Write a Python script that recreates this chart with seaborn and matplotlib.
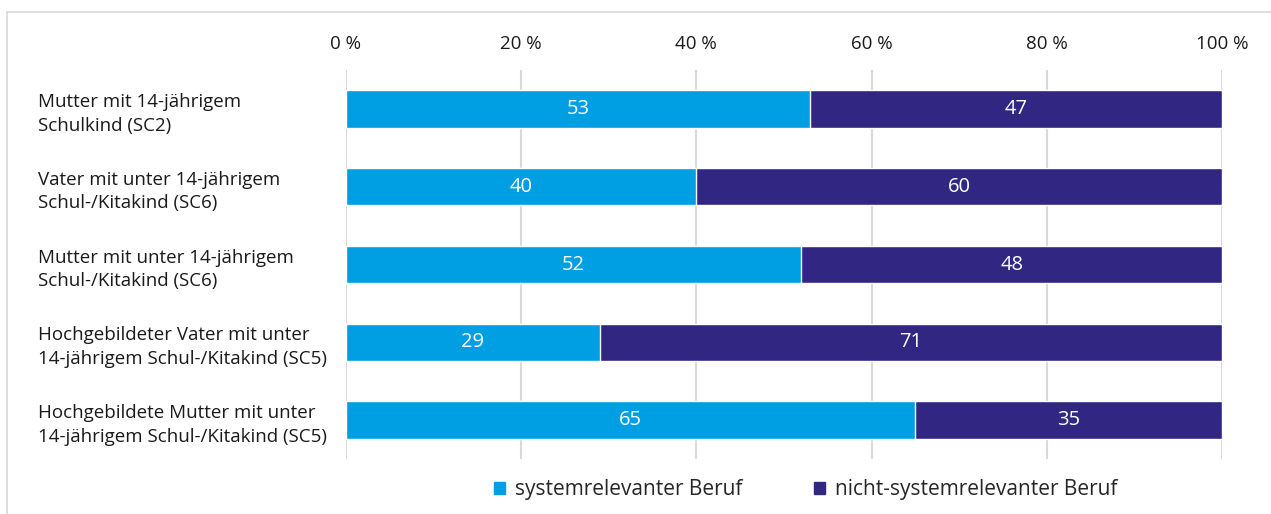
import matplotlib
matplotlib.use("Agg")
import matplotlib.pyplot as plt
import seaborn as sns
import pandas as pd
from matplotlib.patches import Rectangle, Patch

# data
categories = [
    "Mutter mit 14-jährigem\nSchulkind (SC2)",
    "Vater mit unter 14-jährigem\nSchul-/Kitakind (SC6)",
    "Mutter mit unter 14-jährigem\nSchul-/Kitakind (SC6)",
    "Hochgebildeter Vater mit unter\n14-jährigem Schul-/Kitakind (SC5)",
    "Hochgebildete Mutter mit unter\n14-jährigem Schul-/Kitakind (SC5)",
]
systemrelevant = [53, 40, 52, 29, 65]
nicht_systemrelevant = [47, 60, 48, 71, 35]
xticks = [0, 20, 40, 60, 80, 100]

cyan = "#009FE3"
purple = "#312783"

sns.set_style("white")
plt.rcParams["font.family"] = ["Open Sans", "DejaVu Sans"]

df = pd.DataFrame({"cat": categories, "sys": systemrelevant, "nicht": nicht_systemrelevant})
df["total"] = df["sys"] + df["nicht"]

fig = plt.figure(figsize=(12.71, 5.14), dpi=100)
ax = fig.add_axes([0.2722, 0.107, 0.9614 - 0.2722, 0.8638 - 0.107])

# stacked bars: full length in purple, first part in cyan on top
sns.barplot(data=df, x="total", y="cat", color=purple, width=0.48, ax=ax,
            orient="h", saturation=1, zorder=2)
sns.barplot(data=df, x="sys", y="cat", color=cyan, width=0.48, ax=ax,
            orient="h", saturation=1, edgecolor="white", linewidth=1, zorder=3)

# value labels
for i, (a, b) in enumerate(zip(systemrelevant, nicht_systemrelevant)):
    ax.text(a / 2, i, str(a), ha="center", va="center", color="white", fontsize=14.5, zorder=4)
    ax.text(a + b / 2, i, str(b), ha="center", va="center", color="white", fontsize=14.5, zorder=4)

ax.set_xlim(0, 100)
ax.set_ylim(4.5, -0.5)
ax.set_xticks(xticks)
ax.set_xticklabels([f"{t} %" for t in xticks], fontsize=13.5, color="#1a1a1a")
ax.xaxis.tick_top()
ax.tick_params(axis="x", length=0, pad=12)
ax.grid(axis="x", color="#D9D9D9", linewidth=1.5, zorder=0)
ax.set_axisbelow(True)
ax.set_xlabel("")
ax.set_ylabel("")
for s in ax.spines.values():
    s.set_visible(False)

ax.tick_params(axis="y", length=0, pad=222)
for lab in ax.get_yticklabels():
    lab.set_horizontalalignment("left")
    lab.set_fontsize(13.5)
    lab.set_color("#1a1a1a")
    lab.set_linespacing(1.4)

# legend at bottom
handles = [Patch(color=cyan, label="systemrelevanter Beruf"),
           Patch(color=purple, label="nicht-systemrelevanter Beruf")]
fig.legend(handles=handles, loc="center", bbox_to_anchor=(806 / 1271, 1 - 490 / 514),
           ncol=2, frameon=False, fontsize=15, handlelength=0.5, handleheight=0.5,
           handletextpad=0.5, columnspacing=3.45)

# light frame around chart
fig.patches.append(Rectangle((7 / 1271, -0.1), 1.1, 1 - 12 / 514 + 0.1,
                             transform=fig.transFigure, fill=False,
                             edgecolor="#D9D9D9", linewidth=1.2))

fig.savefig("out.png", dpi=100)
